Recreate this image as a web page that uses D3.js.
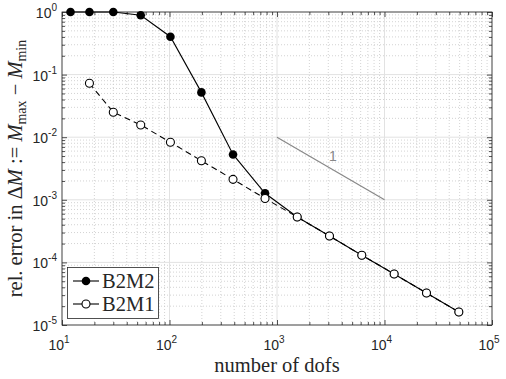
<!DOCTYPE html>
<html>
<head>
<meta charset="utf-8">
<script src="https://cdn.jsdelivr.net/npm/d3@7"></script>
<style>
  body { margin: 0; background: #fff; }
  svg { display: block; }
  .tick-label { font: 14px "Liberation Sans", Arial, sans-serif; fill: #262626; }
  .serif { font-family: "Liberation Serif", "Times New Roman", serif; fill: #262626; }
</style>
</head>
<body>
<script>
// data
var dofs = [12, 18, 30, 54, 102, 198, 390, 774, 1542, 3078, 6150, 12294, 24582, 49158];
var errB2M2 = [1.0, 1.0, 1.0, 0.885, 0.403, 0.052, 0.0053, 0.00127, 0.00053, 0.000264, 0.00013, 6.53e-5, 3.24e-5, 1.61e-5];
var dofsB2M1 = [18, 30, 54, 102, 198, 390, 774, 1542, 3078, 6150, 12294, 24582, 49158];
var errB2M1 = [0.0726, 0.025, 0.0157, 0.0083, 0.0042, 0.00212, 0.00105, 0.00053, 0.000264, 0.00013, 6.53e-5, 3.24e-5, 1.61e-5];
var slopeX = [1e3, 1e4];
var slopeY = [1e-2, 1e-3];
var slopeLabel = "1";
var xExps = [1, 2, 3, 4, 5];
var yExps = [0, -1, -2, -3, -4, -5];
var seriesNames = ["B2M2", "B2M1"];

var W = 506, H = 379;
var mLeft = 62, mRight = 492, mTop = 12, mBottom = 325;

var svg = d3.select("body").append("svg")
  .attr("width", W).attr("height", H);

var x = d3.scaleLog().domain([10, 1e5]).range([mLeft, mRight]);
var y = d3.scaleLog().domain([1e-5, 1]).range([mBottom, mTop]);

// grid
var minorX = [], minorY = [];
for (var e = 1; e < 5; e++) for (var k = 2; k < 10; k++) minorX.push(k * Math.pow(10, e));
for (var e = -5; e < 0; e++) for (var k = 2; k < 10; k++) minorY.push(k * Math.pow(10, e));

var grid = svg.append("g");
grid.selectAll(".mgx").data(minorX).enter().append("line")
  .attr("x1", d => x(d)).attr("x2", d => x(d)).attr("y1", mTop).attr("y2", mBottom)
  .attr("stroke", "#c8c8c8").attr("stroke-dasharray", "1,2").attr("stroke-width", 0.8);
grid.selectAll(".mgy").data(minorY).enter().append("line")
  .attr("y1", d => y(d)).attr("y2", d => y(d)).attr("x1", mLeft).attr("x2", mRight)
  .attr("stroke", "#c8c8c8").attr("stroke-dasharray", "1,2").attr("stroke-width", 0.8);
grid.selectAll(".gx").data(xExps).enter().append("line")
  .attr("x1", d => x(Math.pow(10, d))).attr("x2", d => x(Math.pow(10, d)))
  .attr("y1", mTop).attr("y2", mBottom)
  .attr("stroke", "#e2e2e2").attr("stroke-width", 1);
grid.selectAll(".gy").data(yExps).enter().append("line")
  .attr("y1", d => y(Math.pow(10, d))).attr("y2", d => y(Math.pow(10, d)))
  .attr("x1", mLeft).attr("x2", mRight)
  .attr("stroke", "#e2e2e2").attr("stroke-width", 1);

// axes with inward ticks on all sides
var tickColor = "#262626";
function tickSet(axisGen, tr) {
  var g = svg.append("g").attr("transform", tr).call(axisGen);
  g.select(".domain").remove();
  g.selectAll("text").remove();
  g.selectAll("line").attr("stroke", tickColor).attr("stroke-width", 0.8);
  return g;
}
var xMajor = xExps.map(d => Math.pow(10, d));
var yMajor = yExps.map(d => Math.pow(10, d));
tickSet(d3.axisTop(x).tickValues(xMajor).tickSize(5), "translate(0," + mBottom + ")");
tickSet(d3.axisTop(x).tickValues(minorX).tickSize(3), "translate(0," + mBottom + ")");
tickSet(d3.axisBottom(x).tickValues(xMajor).tickSize(5), "translate(0," + mTop + ")");
tickSet(d3.axisBottom(x).tickValues(minorX).tickSize(3), "translate(0," + mTop + ")");
tickSet(d3.axisRight(y).tickValues(yMajor).tickSize(5), "translate(" + mLeft + ",0)");
tickSet(d3.axisRight(y).tickValues(minorY).tickSize(3), "translate(" + mLeft + ",0)");
tickSet(d3.axisLeft(y).tickValues(yMajor).tickSize(5), "translate(" + mRight + ",0)");
tickSet(d3.axisLeft(y).tickValues(minorY).tickSize(3), "translate(" + mRight + ",0)");

svg.append("rect")
  .attr("x", mLeft).attr("y", mTop).attr("width", mRight - mLeft).attr("height", mBottom - mTop)
  .attr("fill", "none").attr("stroke", tickColor).attr("stroke-width", 0.8);

// tick labels
xExps.forEach(function (d) {
  var t = svg.append("text").attr("class", "tick-label")
    .attr("x", x(Math.pow(10, d)) - 3).attr("y", 350).attr("text-anchor", "middle");
  t.append("tspan").text("10");
  t.append("tspan").attr("dy", -7).attr("font-size", 10).text(d);
});
yExps.forEach(function (d) {
  var t = svg.append("text").attr("class", "tick-label")
    .attr("x", 57).attr("y", y(Math.pow(10, d)) + 6).attr("text-anchor", "end");
  t.append("tspan").text("10");
  t.append("tspan").attr("dy", -7).attr("font-size", 10).text(d);
});

// slope triangle line
svg.append("line")
  .attr("x1", x(slopeX[0])).attr("y1", y(slopeY[0]))
  .attr("x2", x(slopeX[1])).attr("y2", y(slopeY[1]))
  .attr("stroke", "#888").attr("stroke-width", 1.2);
svg.append("text").attr("class", "tick-label")
  .attr("x", 333).attr("y", 161).attr("text-anchor", "middle")
  .attr("font-size", 17).style("fill", "#888").text(slopeLabel);

// series
var line = d3.line().x(d => x(d[0])).y(d => y(d[1]));
var s2 = dofs.map((d, i) => [d, errB2M2[i]]);
var s1 = dofsB2M1.map((d, i) => [d, errB2M1[i]]);

svg.append("path").datum(s2).attr("d", line)
  .attr("fill", "none").attr("stroke", "#000").attr("stroke-width", 1.1);
svg.selectAll(".p2").data(s2).enter().append("circle")
  .attr("cx", d => x(d[0])).attr("cy", d => y(d[1])).attr("r", 4.3)
  .attr("fill", "#000");

svg.append("path").datum(s1).attr("d", line)
  .attr("fill", "none").attr("stroke", "#000").attr("stroke-width", 1.1)
  .attr("stroke-dasharray", "6,4");
svg.selectAll(".p1").data(s1).enter().append("circle")
  .attr("cx", d => x(d[0])).attr("cy", d => y(d[1])).attr("r", 4)
  .attr("fill", "#fff").attr("stroke", "#000").attr("stroke-width", 1.1);

// legend
var lg = svg.append("g");
lg.append("rect").attr("x", 67.5).attr("y", 267.5).attr("width", 91).attr("height", 51)
  .attr("fill", "#fff").attr("stroke", "#262626").attr("stroke-width", 0.8);
seriesNames.forEach(function (name, i) {
  var ly = 281 + i * 23;
  lg.append("line").attr("x1", 73).attr("x2", 99).attr("y1", ly).attr("y2", ly)
    .attr("stroke", "#000").attr("stroke-width", 1.1);
  lg.append("circle").attr("cx", 86).attr("cy", ly).attr("r", i === 0 ? 4.3 : 4)
    .attr("fill", i === 0 ? "#000" : "#fff").attr("stroke", "#000").attr("stroke-width", i === 0 ? 0 : 1.1);
  lg.append("text").attr("class", "serif").attr("x", 102).attr("y", ly + 7)
    .attr("font-size", 20.5).text(name);
});

// axis labels
svg.append("text").attr("class", "serif")
  .attr("x", 277).attr("y", 372).attr("text-anchor", "middle")
  .attr("font-size", 20.5).text("number of dofs");

var yl = svg.append("text").attr("class", "serif")
  .attr("transform", "translate(22," + ((mTop + mBottom) / 2) + ") rotate(-90)")
  .attr("text-anchor", "middle").attr("font-size", 20.5);
yl.append("tspan").text("rel. error in \u0394");
yl.append("tspan").attr("font-style", "italic").text("M");
yl.append("tspan").text(" := ");
yl.append("tspan").attr("font-style", "italic").text("M");
yl.append("tspan").attr("font-size", 14).attr("dy", 4).text("max");
yl.append("tspan").attr("dy", -4).text(" \u2212 ");
yl.append("tspan").attr("font-style", "italic").text("M");
yl.append("tspan").attr("font-size", 14).attr("dy", 4).text("min");
</script>
</body>
</html>
